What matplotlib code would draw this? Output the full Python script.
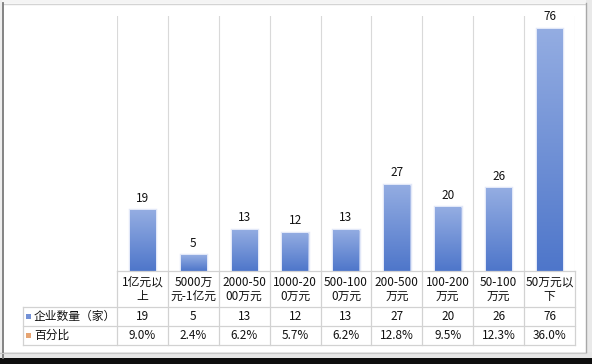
import matplotlib
matplotlib.use('Agg')
import matplotlib.pyplot as plt
import numpy as np
from matplotlib.colors import LinearSegmentedColormap
from matplotlib.patches import Rectangle
from matplotlib.lines import Line2D

plt.rcParams['font.family'] = ['Noto Sans CJK SC', 'DejaVu Sans']

categories = ['1亿元以\n上', '5000万\n元-1亿元', '2000-50\n00万元', '1000-20\n0万元',
              '500-100\n0万元', '200-500\n万元', '100-200\n万元', '50-100\n万元', '50万元以\n下']
counts = [19, 5, 13, 12, 13, 27, 20, 26, 76]
percents = ['9.0%', '2.4%', '6.2%', '5.7%', '6.2%', '12.8%', '9.5%', '12.3%', '36.0%']
series_names = ['企业数量（家）', '百分比']
series_colors = ['#7391d6', '#e6a472']

W, H = 592, 364
fig = plt.figure(figsize=(W / 100, H / 100), dpi=100)
fig.patch.set_facecolor('white')


def fx(x):
    return x / W


def fy(y):
    return 1 - y / H


def frect(x0, y0, x1, y1, color, z=0):
    fig.patches.append(Rectangle((fx(x0), fy(y1)), fx(x1 - x0), (y1 - y0) / H,
                                 transform=fig.transFigure, color=color, lw=0, zorder=z))


def fline(xs, ys, color, lw):
    fig.lines.append(Line2D([fx(v) for v in xs], [fy(v) for v in ys],
                            transform=fig.transFigure, color=color, lw=lw))


# window frame
frect(0, 0, W, 3, '#f4f4f4')
frect(0, 0, 2, H, '#eeeeee')
frect(586, 0, W, H, '#e9e9e9')
frect(0, 352, W, 358, '#e6e6e6')
frect(0, 358, W, H, '#0e0e0e')
fline([3, 585], [3.5, 3.5], '#d4d4d4', 1.0)
fline([2.5, 2.5], [3, 358], '#7a7a7a', 1.3)
fline([585.5, 585.5], [3, 352], '#a8a8a8', 1.0)
fline([0, 586], [352.5, 352.5], '#c8c8c8', 0.8)

# main axes
ax_left, ax_right, ax_top, ax_bot = 117, 575, 16, 271
ax = fig.add_axes([fx(ax_left), fy(ax_bot), fx(ax_right - ax_left), (ax_bot - ax_top) / H])
n = len(categories)
x = np.arange(n)
for s in ax.spines.values():
    s.set_visible(False)
ax.set_xticks([])
ax.set_yticks([])
ax.patch.set_alpha(0)
for b in np.arange(n + 1) - 0.5:
    ax.axvline(b, color='#d9d9d9', lw=0.8, zorder=0)

bars = ax.bar(x, counts, width=0.5, color='#7090d5', zorder=2,
              edgecolor=(0.55, 0.65, 0.9, 0.25), linewidth=2.5)
cmap = LinearSegmentedColormap.from_list('g', ['#4e76ca', '#94ade2'])
grad = np.linspace(0, 1, 256).reshape(-1, 1)
for b in bars:
    x0, y0 = b.get_x(), b.get_y()
    w, h = b.get_width(), b.get_height()
    im = ax.imshow(grad, extent=[x0, x0 + w, y0, y0 + h], origin='lower',
                   aspect='auto', cmap=cmap, zorder=3)
    im.set_clip_path(b)
ax.set_xlim(-0.5, n - 0.5)
ax.set_ylim(0, 80)

for xi, v in zip(x, counts):
    ax.annotate(str(v), (xi, v), xytext=(0, 4), textcoords='offset points',
                ha='center', va='bottom', fontsize=8.5, color='#111111')

# data table
tab_left, tab_bot = 23, 345
cw = (ax_right - ax_left) / n
hdr = (ax_left - tab_left) / cw
th = tab_bot - ax_bot
tax = fig.add_axes([fx(tab_left), fy(tab_bot), fx(ax_right - tab_left), th / H])
tax.set_xlim(-0.5 - hdr, n - 0.5)
tax.set_ylim(0, th)
tax.axis('off')
gc = '#d2d2d2'
r1, r2 = 19, 38
tax.plot([-0.5, n - 0.5], [th, th], color=gc, lw=0.9, clip_on=False)
for yy in (r2, r1, 0):
    tax.plot([-0.5 - hdr, n - 0.5], [yy, yy], color=gc, lw=0.9, clip_on=False)
tax.plot([-0.5 - hdr] * 2, [0, r2], color=gc, lw=0.9, clip_on=False)
for b in np.arange(n + 1) - 0.5:
    tax.plot([b, b], [0, th], color=gc, lw=0.9, clip_on=False)

for xi, c in zip(x, categories):
    tax.text(xi, (r2 + th) / 2 - 0.5, c, ha='center', va='center', fontsize=8.5,
             linespacing=1.15, color='#111111')
for xi, v in zip(x, counts):
    tax.text(xi, (r1 + r2) / 2, str(v), ha='center', va='center', fontsize=8.5, color='#111111')
for xi, p in zip(x, percents):
    tax.text(xi, r1 / 2, p, ha='center', va='center', fontsize=8.5, color='#111111')

key_x = -0.5 - hdr + (26 - tab_left) / cw
kw = 4.5 / cw
txt_x = -0.5 - hdr + (34 - tab_left) / cw
for (yc, name, col) in [((r1 + r2) / 2, series_names[0], series_colors[0]),
                        (r1 / 2, series_names[1], series_colors[1])]:
    tax.add_patch(Rectangle((key_x, yc - 2.5), kw, 5, color=col, lw=0, clip_on=False))
    tax.text(txt_x, yc, name, ha='left', va='center', fontsize=8.5, color='#111111')

fig.savefig('out.png', dpi=100)
